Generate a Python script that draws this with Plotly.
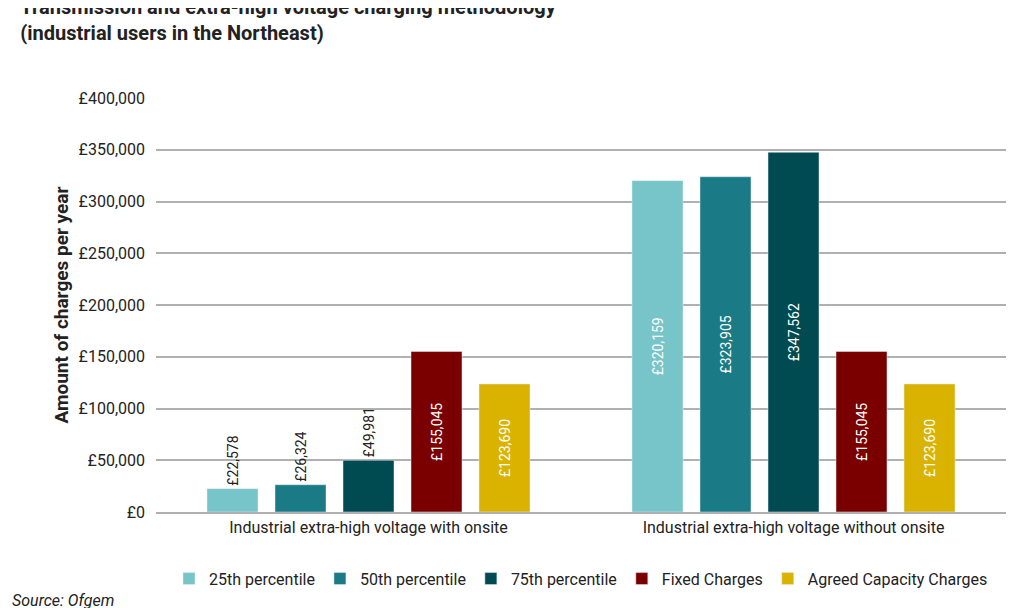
import plotly.graph_objects as go

categories = ["Industrial extra-high voltage with onsite", "Industrial extra-high voltage without onsite"]
series = ["25th percentile", "50th percentile", "75th percentile", "Fixed Charges", "Agreed Capacity Charges"]
values = {
    "25th percentile": [22578, 320159],
    "50th percentile": [26324, 323905],
    "75th percentile": [49981, 347562],
    "Fixed Charges": [155045, 155045],
    "Agreed Capacity Charges": [123690, 123690],
}
colors = ["#77c5c9", "#1a7a85", "#004a52", "#7a0000", "#d9b300"]
yticks = [0, 50000, 100000, 150000, 200000, 250000, 300000, 350000, 400000]

font = "Roboto, sans-serif"
fig = go.Figure()
for s, c in zip(series, colors):
    v = values[s]
    pos = ["outside" if x < 100000 else "inside" for x in v]
    tcol = ["#222222" if p == "outside" else "white" for p in pos]
    fig.add_trace(go.Bar(
        name=s, x=categories, y=v, marker_color=c,
        text=[f"£{x:,}" for x in v], textposition=pos, textangle=-90,
        textfont=dict(color=tcol, size=14, family=font),
        insidetextanchor="middle", cliponaxis=False,
    ))

fig.update_layout(
    width=1024, height=608, barmode="group", bargap=0.2, bargroupgap=0.25,
    plot_bgcolor="white", paper_bgcolor="white",
    margin=dict(l=148, r=26, t=90, b=104, autoexpand=False),
    font=dict(family=font, size=16, color="#222222"),
    title=dict(text="<b>Transmission and extra-high voltage charging methodology<br>(industrial users in the Northeast)</b>",
               x=0.012, xanchor="left", xref="container", y=0.99, yref="container", yanchor="top",
               font=dict(size=20)),
    legend=dict(orientation="h", x=0.5, xanchor="center", y=-0.12, yanchor="top",
                font=dict(size=16), itemwidth=30),
    yaxis=dict(range=[0, 400000], tickvals=yticks, ticktext=[f"£{t:,}" for t in yticks],
               gridcolor="#b0b0b0", gridwidth=1.5, zeroline=False, ticks="", ticklabelstandoff=10,
               title=dict(text="<b>Amount of charges per year</b>", font=dict(size=19), standoff=4),
               showline=False),
    xaxis=dict(showline=True, linecolor="#b0b0b0", linewidth=1.5, tickfont=dict(size=16)),
)
fig.add_annotation(text="<i>Source: Ofgem</i>", xref="paper", yref="paper", x=-0.172, y=-0.185,
                   xanchor="left", yanchor="top", showarrow=False, font=dict(size=16))
fig.write_html("out.html")
